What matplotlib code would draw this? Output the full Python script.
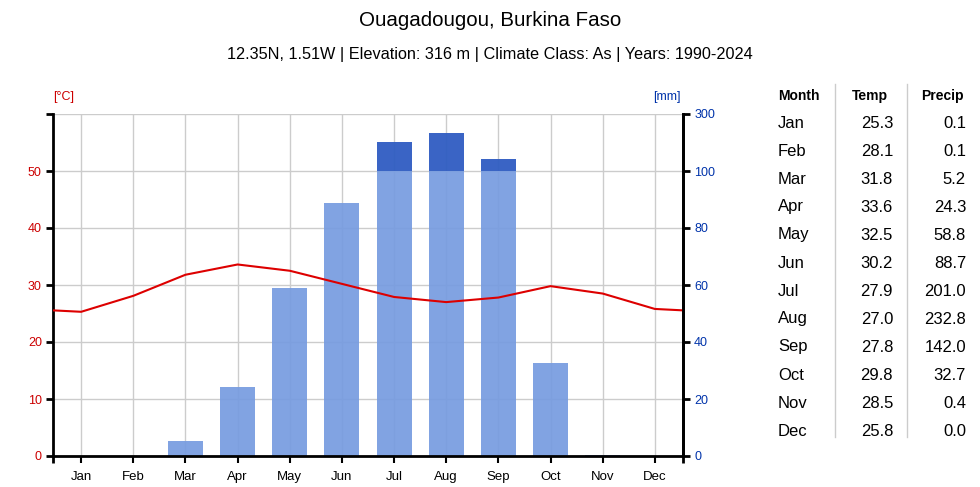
import matplotlib
matplotlib.use("Agg")
import matplotlib.pyplot as plt
import numpy as np

plt.rcParams['font.family'] = ['Liberation Sans', 'DejaVu Sans']

months = ["Jan", "Feb", "Mar", "Apr", "May", "Jun", "Jul", "Aug", "Sep", "Oct", "Nov", "Dec"]
temp = [25.3, 28.1, 31.8, 33.6, 32.5, 30.2, 27.9, 27.0, 27.8, 29.8, 28.5, 25.8]
precip = [0.1, 0.1, 5.2, 24.3, 58.8, 88.7, 201.0, 232.8, 142.0, 32.7, 0.4, 0.0]
temp_ticks = [0, 10, 20, 30, 40, 50]
precip_ticks = [0, 20, 40, 60, 80, 100, 300]

title = "Ouagadougou, Burkina Faso"
subtitle = "12.35N, 1.51W | Elevation: 316 m | Climate Class: As | Years: 1990-2024"


def p2t(p):
    p = np.asarray(p, dtype=float)
    return np.where(p <= 100, p / 2.0, 50 + (p - 100) / 20.0)


fig = plt.figure(figsize=(9.8, 4.87), dpi=100)
ax = fig.add_axes([53 / 980, 31 / 487, 630 / 980, 342 / 487])
x = np.arange(12)
xl = (-0.54, 11.54)
ax.set_xlim(*xl)
ax.set_ylim(0, 60)

light = '#769be0'
dark = '#2f5cc2'
grid_c = '#cccccc'

# grid
for yv in range(0, 70, 10):
    ax.axhline(yv, color=grid_c, lw=1, zorder=0)
for xv in x:
    ax.axvline(xv, color=grid_c, lw=1, zorder=0)

pr = np.array(precip)
low = p2t(np.minimum(pr, 100))
ax.bar(x, low, width=0.67, color=light, alpha=0.92, zorder=2)
high_mask = pr > 100
ax.bar(x[high_mask], p2t(pr[high_mask]) - 50, bottom=50, width=0.67,
       color=dark, alpha=0.95, zorder=2)

# temperature line, wrapping to edges
edge = (temp[0] + temp[-1]) / 2.0
tx = [xl[0]] + list(x) + [xl[1]]
ty = [edge] + temp + [edge]
ax.plot(tx, ty, color='#dd0000', lw=1.5, zorder=3)

ax.spines['top'].set_visible(False)
ax.spines['bottom'].set_linewidth(2)
ax.spines['left'].set_linewidth(2)
ax.spines['right'].set_linewidth(2)

ax.set_xticks(x)
ax.set_xticklabels(months, fontsize=9.5)
ax.tick_params(axis='x', length=5, width=1.5, pad=6, colors='black')
ax.set_xticks(list(xl), minor=True)
ax.tick_params(axis='x', which='minor', length=5, width=2)

ax.set_yticks(list(range(0, 70, 10)))
ax.set_yticklabels([str(t) for t in temp_ticks] + [""], fontsize=9, color='#cc0000')
ax.tick_params(axis='y', length=5, width=2, pad=3)

ax2 = ax.twinx()
ax2.set_ylim(0, 60)
ax2.set_yticks(p2t(precip_ticks))
ax2.set_yticklabels([str(t) for t in precip_ticks], fontsize=9, color='#0033aa')
ax2.tick_params(axis='y', length=5, width=2, pad=3)
for s in ['top', 'left', 'bottom']:
    ax2.spines[s].set_visible(False)
ax2.spines['right'].set_linewidth(2)

fig.text(64 / 980, 1 - 97 / 487, "[°C]", color='#cc0000', fontsize=9, ha='center', va='center')
fig.text(667 / 980, 1 - 97 / 487, "[mm]", color='#0033aa', fontsize=9, ha='center', va='center')

fig.text(0.5, 1 - 20 / 487, title, fontsize=14.8, ha='center', va='center')
fig.text(0.5, 1 - 55 / 487, subtitle, fontsize=11.7, ha='center', va='center')

# table
hy = 1 - 96 / 487
fig.text(778 / 980, hy, "Month", fontsize=10, fontweight='bold', ha='left', va='center')
fig.text(888 / 980, hy, "Temp", fontsize=10, fontweight='bold', ha='right', va='center')
fig.text(964 / 980, hy, "Precip", fontsize=10, fontweight='bold', ha='right', va='center')
for i, m in enumerate(months):
    yy = 1 - (123 + 28 * i) / 487
    fig.text(778 / 980, yy, m, fontsize=12, ha='left', va='center')
    fig.text(893 / 980, yy, f"{temp[i]:.1f}", fontsize=12, ha='right', va='center')
    fig.text(966 / 980, yy, f"{precip[i]:.1f}", fontsize=12, ha='right', va='center')
for xv in [835, 907]:
    fig.add_artist(plt.Line2D([xv / 980, xv / 980], [1 - 84 / 487, 1 - 437 / 487],
                              color='#cccccc', lw=1))

fig.savefig("out.png", dpi=100)
